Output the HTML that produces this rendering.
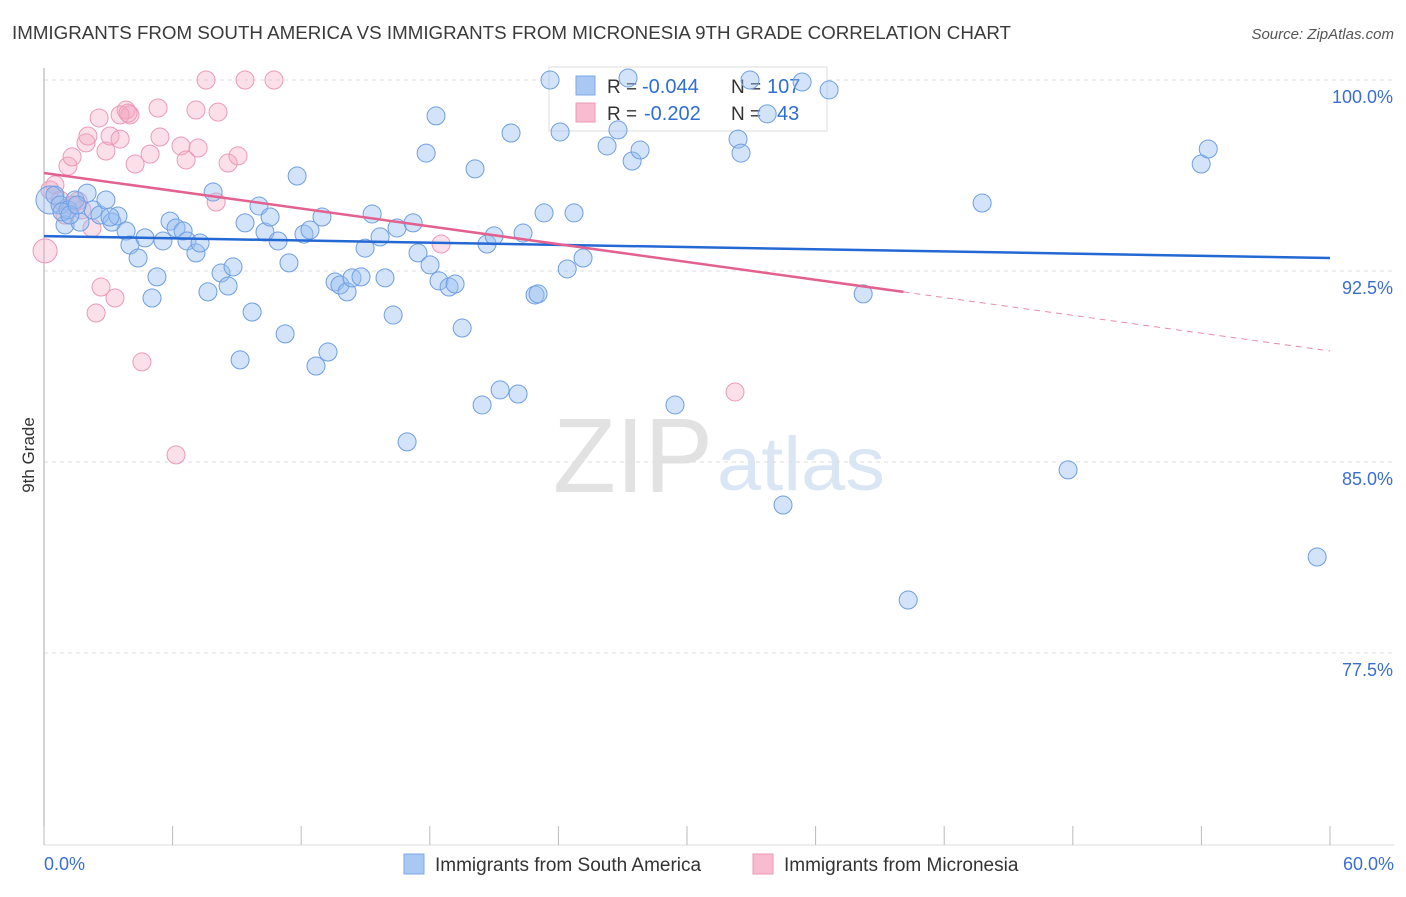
<!DOCTYPE html>
<html><head><meta charset="utf-8"><style>
body{margin:0;background:#fff;font-family:"Liberation Sans",sans-serif}
svg text{font-family:"Liberation Sans",sans-serif}
</style></head><body>
<svg id="c" width="1406" height="892" xmlns="http://www.w3.org/2000/svg">
<text x="12" y="39" font-size="18" fill="#3a3a3a" textLength="999" lengthAdjust="spacingAndGlyphs">IMMIGRANTS FROM SOUTH AMERICA VS IMMIGRANTS FROM MICRONESIA 9TH GRADE CORRELATION CHART</text>
<text x="1394" y="39" font-size="15" fill="#555" font-style="italic" text-anchor="end">Source: ZipAtlas.com</text>
<text transform="translate(34,455) rotate(-90)" font-size="17" fill="#333" text-anchor="middle">9th Grade</text>
<g><text x="553" y="492" font-family="Liberation Serif" font-size="106" fill="#e2e2e2" textLength="160" lengthAdjust="spacingAndGlyphs">ZIP</text><text x="717" y="490" font-size="76" fill="#dbe6f5" textLength="168" lengthAdjust="spacingAndGlyphs">atlas</text></g>
<g id="grid"></g><g id="axes"></g>
<g>
<rect x="549" y="67" width="278" height="64" fill="#fff" stroke="#ddd"/>
<rect x="576" y="76" width="19" height="19" fill="#a9c8f3" stroke="#7ea9e6"/>
<rect x="576" y="103" width="19" height="19" fill="#f7bcd0" stroke="#ec97b4"/>
<text x="607" y="93" font-size="19" fill="#333">R =</text><text x="642" y="93" font-size="20" fill="#2f6fd3">-0.044</text>
<text x="731" y="93" font-size="19" fill="#333">N =</text><text x="767" y="93" font-size="20" fill="#2f6fd3">107</text>
<text x="607" y="120" font-size="19" fill="#333">R =</text><text x="644" y="120" font-size="20" fill="#2f6fd3">-0.202</text>
<text x="731" y="120" font-size="19" fill="#333">N =</text><text x="777" y="120" font-size="20" fill="#2f6fd3">43</text>
</g>
<g id="pts"></g><g id="lines"></g>
<g>
<rect x="404" y="854" width="20" height="20" fill="#a9c8f3" stroke="#7ea9e6"/>
<text x="435" y="871" font-size="19" fill="#333">Immigrants from South America</text>
<rect x="753" y="854" width="20" height="20" fill="#f7bcd0" stroke="#ec97b4"/>
<text x="784" y="871" font-size="19" fill="#333">Immigrants from Micronesia</text>
</g>
</svg>
<script>
const yTicks=[100,92.5,85,77.5];
const yTickLabels=["100.0%","92.5%","85.0%","77.5%"];
const xTickLabels=["0.0%","60.0%"];
const blueX=[0.28,0.51,0.75,0.98,1.12,1.45,1.68,2.01,2.29,2.61,2.89,3.17,3.45,3.83,4.01,4.39,4.71,5.04,5.27,5.55,5.88,6.16,6.49,6.67,7.09,7.28,7.65,7.89,8.26,8.59,8.82,9.15,9.38,9.71,10.03,10.31,10.55,10.92,11.25,11.43,11.81,12.13,12.41,12.69,12.97,13.25,13.58,13.81,14.14,14.37,14.79,14.98,15.31,15.68,15.91,16.29,16.47,16.94,17.22,17.45,17.83,18.01,18.29,18.43,18.9,19.18,19.51,20.11,20.44,20.67,21.0,21.28,21.79,22.12,22.35,22.91,23.05,23.33,23.61,24.08,24.41,24.73,25.15,26.27,26.78,27.25,27.44,27.81,29.44,32.38,32.52,32.94,33.74,34.48,35.37,36.63,38.22,40.32,43.77,47.78,53.99,54.32,59.4,0.84,1.21,3.08,1.54];
const blueY=[95.29,95.48,95.09,94.31,94.9,95.29,94.42,95.56,94.9,94.7,95.29,94.42,94.66,94.07,93.52,93.01,93.8,91.44,92.27,93.68,94.46,94.19,94.07,93.68,93.21,93.6,91.68,95.6,92.42,91.91,92.66,89.01,94.39,90.89,95.05,94.03,94.62,93.68,90.03,92.82,96.23,93.95,94.11,88.77,94.62,89.32,92.07,91.95,91.68,92.23,92.27,93.4,94.74,93.84,92.23,90.77,94.19,85.79,94.39,93.21,97.13,92.74,98.59,92.11,91.87,91.99,90.26,96.51,87.24,93.56,93.88,87.83,97.92,87.67,93.99,91.56,91.6,94.78,100,97.96,92.58,94.78,93.01,97.41,98.04,100.08,96.82,97.25,87.24,97.68,97.13,100,98.67,83.31,99.92,99.61,91.6,79.58,95.17,84.69,96.7,97.29,81.27,94.82,94.7,94.62,95.09];
const pinkX=[0.05,0.28,0.51,0.75,0.98,1.12,1.31,1.59,1.96,2.05,2.24,2.43,2.57,2.66,2.89,3.08,3.31,3.55,3.83,4.01,4.25,4.57,4.95,5.32,5.41,6.16,6.39,6.63,7.09,7.19,7.56,8.03,8.12,8.59,9.05,9.38,10.73,18.53,32.24,1.31,1.77,3.55,3.92];
const pinkY=[93.29,95.68,95.88,95.29,94.7,96.62,96.98,95.25,97.53,97.8,94.19,90.85,98.51,91.87,97.21,97.8,91.44,97.68,98.82,98.63,96.7,88.93,97.09,98.9,97.76,85.28,97.41,96.86,98.82,97.33,100,95.21,98.74,96.74,97.02,100,100,93.56,87.75,95.09,94.9,98.63,98.7];
const blueTrend=[93.87,93.01];
const pinkTrend=[96.35,89.36];
const pinkSolidEnd=40.1;
const NS="http://www.w3.org/2000/svg";
const X=v=>44+v*(1286/60), Y=v=>80+(100-v)*(191/7.5);
function mk(t,a,p){const e=document.createElementNS(NS,t);for(const k in a)e.setAttribute(k,a[k]);p.appendChild(e);return e;}
const grid=document.getElementById('grid'),axes=document.getElementById('axes'),pts=document.getElementById('pts'),lines=document.getElementById('lines');
yTicks.forEach((t,i)=>{
 const l=mk('line',{x1:44,x2:1394,y1:Y(t),y2:Y(t),stroke:'#ddd','stroke-dasharray':'4,4'},grid);
 
 
 const tx=mk('text',{x:1393,y:Y(t)+23,'font-size':18,fill:'#3a6fd0','text-anchor':'end'},axes);tx.textContent=yTickLabels[i];
 
 
});
const ax=mk('line',{x1:44,x2:44,y1:68,y2:845,stroke:'#aaa'},axes);


const bx=mk('line',{x1:44,x2:1394,y1:845,y2:845,stroke:'#ddd'},axes);


for(let i=0;i<=10;i++){const t=mk('line',{x1:X(i*6),x2:X(i*6),y1:826,y2:845,stroke:'#bbb'},axes);
 
 }
[[0,'start',44],[60,'end',1394]].forEach((d,i)=>{const t=mk('text',{x:d[2],y:870,'font-size':18,fill:'#3a6fd0','text-anchor':d[1]},axes);t.textContent=xTickLabels[i];
 
 });
pinkX.forEach((x,i)=>{const c=mk('circle',{cx:X(x),cy:Y(pinkY[i]),r:i==0?12:9,fill:'rgba(244,165,192,0.35)',stroke:'#eb9ab6','stroke-width':1},pts);
 
 });
blueX.forEach((x,i)=>{const c=mk('circle',{cx:X(x),cy:Y(blueY[i]),r:i==0?14:9,fill:'rgba(150,188,240,0.42)',stroke:'#6f9fe3','stroke-width':1},pts);
 
 });
const bl=mk('line',{x1:X(0),y1:Y(blueTrend[0]),x2:X(60),y2:Y(blueTrend[1]),stroke:'#2468d4','stroke-width':2.5},lines);


const pm=pinkTrend[0]+(pinkTrend[1]-pinkTrend[0])*pinkSolidEnd/60;
const pl=mk('line',{x1:X(0),y1:Y(pinkTrend[0]),x2:X(pinkSolidEnd),y2:Y(pm),stroke:'#e2618f','stroke-width':2.5},lines);


const pd=mk('line',{x1:X(pinkSolidEnd),y1:Y(pm),x2:X(60),y2:Y(pinkTrend[1]),stroke:'#e88aab','stroke-width':1,'stroke-dasharray':'6,5'},lines);


</script>
</body></html>
